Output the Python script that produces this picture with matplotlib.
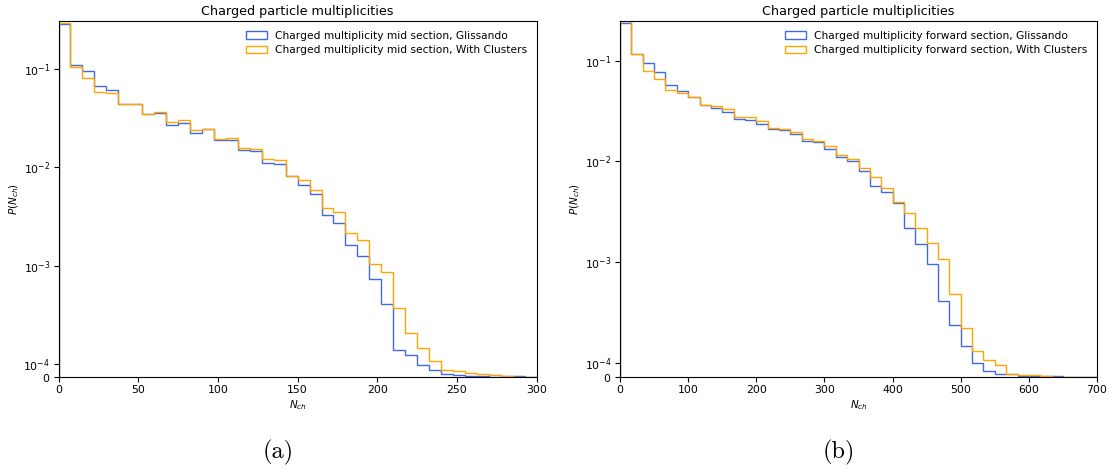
import numpy as np
import matplotlib
matplotlib.use("Agg")
import matplotlib.pyplot as plt
from matplotlib.ticker import NullLocator

# ---------------- data ----------------
mid_edges = np.linspace(0, 300, 41)
mid_glissando = [
    0.290, 0.111, 0.0967, 0.0674, 0.0618, 0.0448, 0.0446, 0.0347, 0.0358, 0.0273,
    0.0283, 0.0223, 0.0245, 0.0190, 0.0190, 0.0149, 0.0146, 0.0110, 0.0108, 0.0081,
    0.00668, 0.00538, 0.00326, 0.00274, 0.00163, 0.00126, 0.000724, 0.000408, 0.000138, 0.000121,
    0.000087, 0.000050, 0.000018, 0.000015, 0.000007, 0.000005, 0.000010, 0.000004, 0.000002, 0.000001,
]
mid_clusters = [
    0.299, 0.106, 0.0824, 0.0584, 0.0575, 0.0441, 0.0446, 0.0352, 0.0366, 0.0290,
    0.0301, 0.0242, 0.0245, 0.0195, 0.0198, 0.0158, 0.0155, 0.0122, 0.0120, 0.0082,
    0.00743, 0.00593, 0.00386, 0.00354, 0.00214, 0.00184, 0.00104, 0.000867, 0.000371, 0.000203,
    0.000145, 0.000107, 0.000055, 0.000042, 0.000030, 0.000020, 0.000012, 0.000008, 0.0, 0.0,
]

fwd_edges = np.linspace(0, 700, 43)
fwd_glissando = [
    0.2355, 0.115, 0.094, 0.0774, 0.0576, 0.0505, 0.0431, 0.0367, 0.0336, 0.0309,
    0.0262, 0.0258, 0.0237, 0.0209, 0.0203, 0.0189, 0.0161, 0.0157, 0.0134, 0.01107,
    0.0100, 0.0081, 0.00571, 0.00497, 0.0039, 0.00217, 0.00153, 0.00097, 0.00041, 0.000238,
    0.000148, 0.000101, 0.000045, 0.000020, 0.000017, 0.000007, 0.000004, 0.000002, 0.000002, 0.000001,
    0.000001, 0.000001,
]
fwd_clusters = [
    0.245, 0.116, 0.0798, 0.0663, 0.0516, 0.0482, 0.0431, 0.0367, 0.0355, 0.0329,
    0.0277, 0.0275, 0.0251, 0.0214, 0.0209, 0.0194, 0.0166, 0.0159, 0.0143, 0.0117,
    0.0106, 0.0087, 0.00705, 0.00548, 0.0040, 0.00309, 0.00217, 0.00156, 0.00107, 0.000482,
    0.000226, 0.000133, 0.000108, 0.000085, 0.000022, 0.000015, 0.000012, 0.000002, 0.0, 0.0,
    0.0, 0.0,
]

title = "Charged particle multiplicities"
mid_labels = ["Charged multiplicity mid section, Glissando",
              "Charged multiplicity mid section, With Clusters"]
fwd_labels = ["Charged multiplicity forward section, Glissando",
              "Charged multiplicity forward section, With Clusters"]
captions = ["(a)", "(b)"]

BLUE = "#4169E1"
ORANGE = "#FFA500"

fig = plt.figure(figsize=(11.16, 4.70), dpi=100)
W, H = 1116, 470

def add_axes(x0, x1, y0, y1):
    return fig.add_axes([x0 / W, 1 - y1 / H, (x1 - x0) / W, (y1 - y0) / H])

ax1 = add_axes(58.5, 536.7, 21, 376.7)
ax2 = add_axes(620, 1097, 21, 376.7)

panels = [
    (ax1, mid_edges, mid_glissando, mid_clusters, mid_labels, (0, 300), 0.311, np.arange(0, 301, 50)),
    (ax2, fwd_edges, fwd_glissando, fwd_clusters, fwd_labels, (0, 700), 0.247, np.arange(0, 701, 100)),
]

for ax, edges, g, c, labels, xlim, ytop, xt in panels:
    centers = 0.5 * (edges[:-1] + edges[1:])
    ax.hist(centers, bins=edges, weights=g, histtype="step", color=BLUE,
            linewidth=1.0, label=labels[0])
    ax.hist(centers, bins=edges, weights=c, histtype="step", color=ORANGE,
            linewidth=1.0, label=labels[1])
    ax.set_yscale("symlog", linthresh=1e-4, linscale=0.12)
    ax.set_ylim(0, ytop)
    ax.set_xlim(*xlim)
    ax.set_xticks(xt)
    ax.set_yticks([0, 1e-4, 1e-3, 1e-2, 1e-1])
    ax.yaxis.set_minor_locator(NullLocator())
    ax.tick_params(labelsize=7.8, length=3.5, width=0.8, pad=2.5)
    ax.set_title(title, fontsize=9.2, pad=4)
    ax.set_xlabel(r"$N_{ch}$", fontsize=7.5, labelpad=2)
    ax.set_ylabel(r"$P(N_{ch})$", fontsize=7.5, labelpad=2)
    ax.legend(loc="upper right", frameon=False, fontsize=7.7,
              handlelength=2.0, handleheight=0.7, borderaxespad=0.5,
              labelspacing=0.45, handletextpad=0.75)

fig.text(278 / W, 1 - 452 / H, captions[0], fontsize=17.5, ha="center", va="center",
         family="cmr10")
fig.text(839 / W, 1 - 452 / H, captions[1], fontsize=17.5, ha="center", va="center",
         family="cmr10")

fig.savefig("out.png", dpi=100)
